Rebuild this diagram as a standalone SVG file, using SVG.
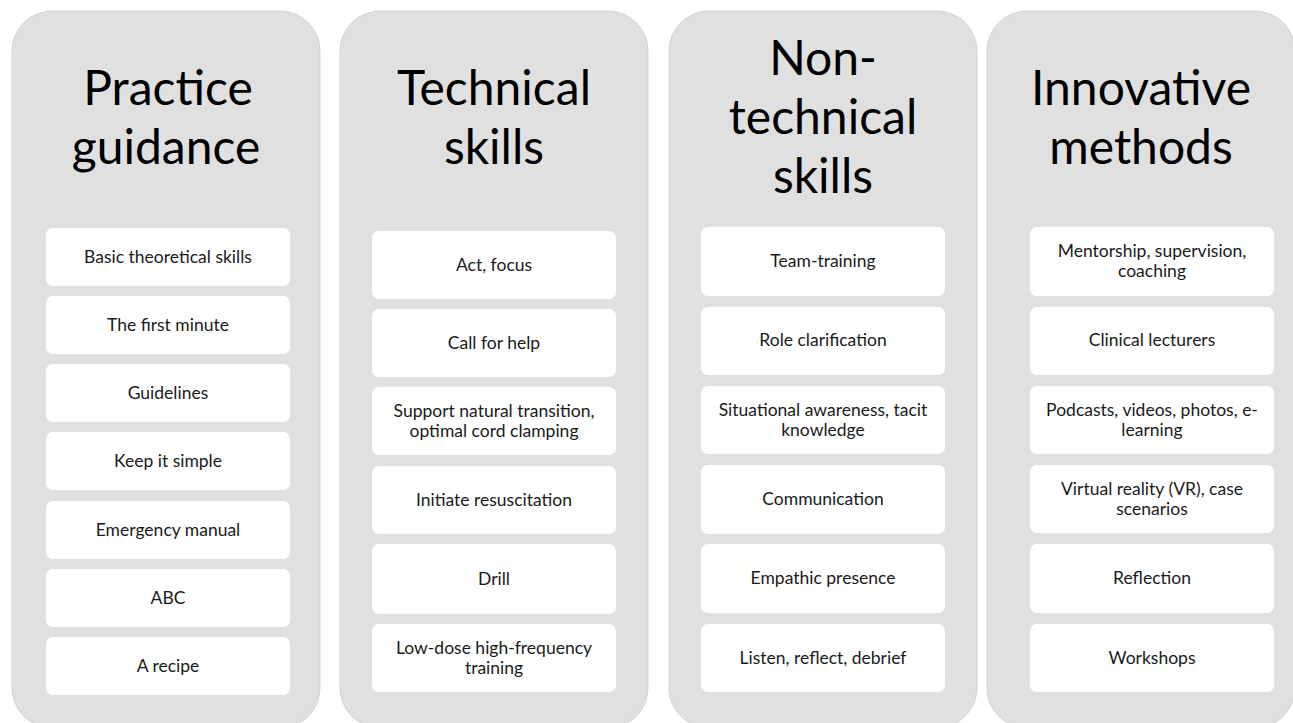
<svg xmlns="http://www.w3.org/2000/svg" width="1293" height="723" viewBox="0 0 1293 723">
<style>
.col{fill:#e0e0e0;stroke:#d4d4d4;stroke-width:1}
.box{fill:#ffffff}
.title{font-family:Lato,"Open Sans","Liberation Sans",sans-serif;font-size:48px;fill:#000;text-anchor:middle}
.item{font-family:Lato,"Open Sans","Liberation Sans",sans-serif;font-size:17.5px;fill:#1a1a1a;text-anchor:middle}
</style>
<rect width="1293" height="723" fill="#ffffff"/>
<g id="col-practice">
<rect class="col" x="12" y="11" width="308" height="717" rx="40"/>
<text class="title" x="168" y="105">Practice</text>
<text class="title" x="166" y="164">guidance</text>
</g>
<g id="col-technical">
<rect class="col" x="340" y="11" width="308" height="717" rx="40"/>
<text class="title" x="494" y="105">Technical</text>
<text class="title" x="494" y="164">skills</text>
</g>
<g id="col-nontechnical">
<rect class="col" x="669" y="11" width="308" height="717" rx="40"/>
<text class="title" x="823" y="75">Non-</text>
<text class="title" x="823" y="134">technical</text>
<text class="title" x="823" y="193">skills</text>
</g>
<g id="col-innovative">
<rect class="col" x="987" y="11" width="308" height="717" rx="40"/>
<text class="title" x="1141" y="105">Innovative</text>
<text class="title" x="1141" y="164">methods</text>
</g>

<g id="p1"><rect class="box" x="46" y="228" width="244" height="58" rx="7"/><text class="item" x="168" y="263">Basic theoretical skills</text></g>
<g id="p2"><rect class="box" x="46" y="296" width="244" height="58" rx="7"/><text class="item" x="168" y="331">The first minute</text></g>
<g id="p3"><rect class="box" x="46" y="364" width="244" height="58" rx="7"/><text class="item" x="168" y="399">Guidelines</text></g>
<g id="p4"><rect class="box" x="46" y="432" width="244" height="58" rx="7"/><text class="item" x="168" y="467">Keep it simple</text></g>
<g id="p5"><rect class="box" x="46" y="501" width="244" height="58" rx="7"/><text class="item" x="168" y="536">Emergency manual</text></g>
<g id="p6"><rect class="box" x="46" y="569" width="244" height="58" rx="7"/><text class="item" x="168" y="604">ABC</text></g>
<g id="p7"><rect class="box" x="46" y="637" width="244" height="58" rx="7"/><text class="item" x="168" y="672">A recipe</text></g>

<g id="t1"><rect class="box" x="372" y="231" width="244" height="68" rx="7"/><text class="item" x="494" y="271">Act, focus</text></g>
<g id="t2"><rect class="box" x="372" y="309" width="244" height="68" rx="7"/><text class="item" x="494" y="349">Call for help</text></g>
<g id="t3"><rect class="box" x="372" y="387" width="244" height="68" rx="7"/><text class="item" x="494" y="417">Support natural transition,</text><text class="item" x="494" y="437">optimal cord clamping</text></g>
<g id="t4"><rect class="box" x="372" y="466" width="244" height="68" rx="7"/><text class="item" x="494" y="506">Initiate resuscitation</text></g>
<g id="t5"><rect class="box" x="372" y="544" width="244" height="70" rx="7"/><text class="item" x="494" y="585">Drill</text></g>
<g id="t6"><rect class="box" x="372" y="624" width="244" height="68" rx="7"/><text class="item" x="494" y="654">Low-dose high-frequency</text><text class="item" x="494" y="674">training</text></g>

<g id="n1"><rect class="box" x="701" y="227" width="244" height="69" rx="7"/><text class="item" x="823" y="267">Team-training</text></g>
<g id="n2"><rect class="box" x="701" y="307" width="244" height="68" rx="7"/><text class="item" x="823" y="346">Role clarification</text></g>
<g id="n3"><rect class="box" x="701" y="386" width="244" height="68" rx="7"/><text class="item" x="823" y="416">Situational awareness, tacit</text><text class="item" x="823" y="436">knowledge</text></g>
<g id="n4"><rect class="box" x="701" y="465" width="244" height="69" rx="7"/><text class="item" x="823" y="505">Communication</text></g>
<g id="n5"><rect class="box" x="701" y="544" width="244" height="69" rx="7"/><text class="item" x="823" y="584">Empathic presence</text></g>
<g id="n6"><rect class="box" x="701" y="624" width="244" height="68" rx="7"/><text class="item" x="823" y="664">Listen, reflect, debrief</text></g>

<g id="i1"><rect class="box" x="1030" y="227" width="244" height="69" rx="7"/><text class="item" x="1152" y="257">Mentorship, supervision,</text><text class="item" x="1152" y="277">coaching</text></g>
<g id="i2"><rect class="box" x="1030" y="307" width="244" height="68" rx="7"/><text class="item" x="1152" y="346">Clinical lecturers</text></g>
<g id="i3"><rect class="box" x="1030" y="386" width="244" height="68" rx="7"/><text class="item" x="1152" y="416">Podcasts, videos, photos, e-</text><text class="item" x="1152" y="436">learning</text></g>
<g id="i4"><rect class="box" x="1030" y="465" width="244" height="68" rx="7"/><text class="item" x="1152" y="495">Virtual reality (VR), case</text><text class="item" x="1152" y="515">scenarios</text></g>
<g id="i5"><rect class="box" x="1030" y="544" width="244" height="69" rx="7"/><text class="item" x="1152" y="584">Reflection</text></g>
<g id="i6"><rect class="box" x="1030" y="624" width="244" height="68" rx="7"/><text class="item" x="1152" y="664">Workshops</text></g>
<g id="connectors"></g>
</svg>
